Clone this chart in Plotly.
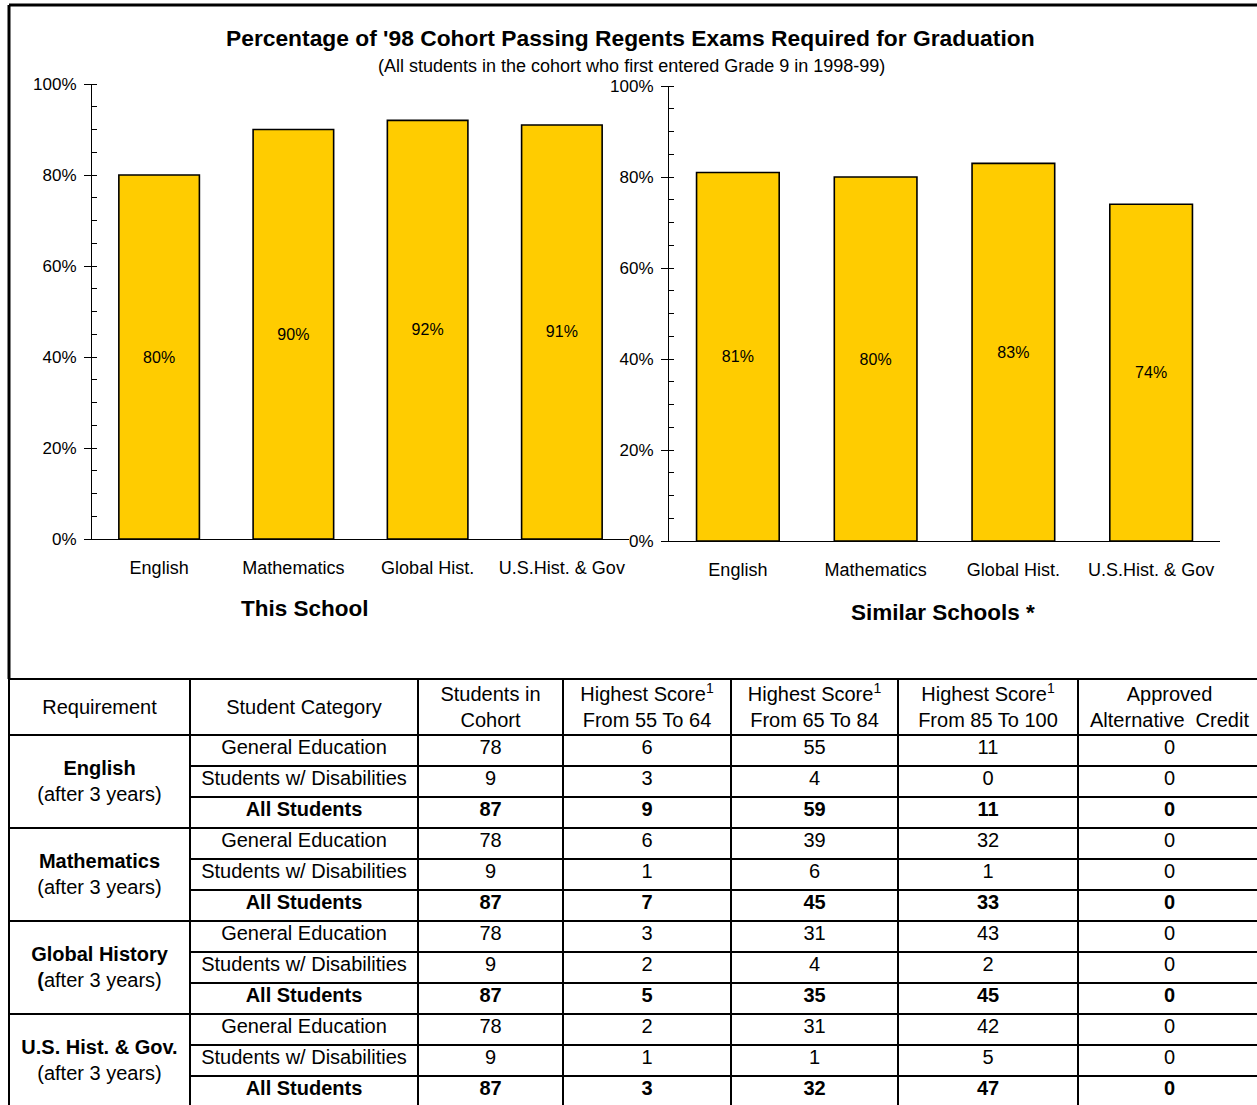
import plotly.graph_objects as go

# ---------------- data ----------------
categories = ["English", "Mathematics", "Global Hist.", "U.S.Hist. & Gov"]
this_school = [80, 90, 92, 91]
similar_schools = [81, 80, 83, 74]
y_ticks = [0, 20, 40, 60, 80, 100]

title_text = "Percentage of '98 Cohort Passing Regents Exams Required for Graduation"
subtitle_text = "(All students in the cohort who first entered Grade 9 in 1998-99)"
group_labels = ["This School", "Similar Schools *"]

table_headers = [
    "Requirement",
    "Student Category",
    "Students in<br>Cohort",
    "Highest Score<sup>1</sup><br>From 55 To 64",
    "Highest Score<sup>1</sup><br>From 65 To 84",
    "Highest Score<sup>1</sup><br>From 85 To 100",
    "Approved<br>Alternative  Credit",
]
requirements = [
    "<b>English</b><br>(after 3 years)",
    "<b>Mathematics</b><br>(after 3 years)",
    "<b>Global History</b><br><b>(</b>after 3 years)",
    "<b>U.S. Hist. & Gov.</b><br>(after 3 years)",
]
student_categories = ["General Education", "Students w/ Disabilities", "All Students"]
students_in_cohort = [[78, 9, 87], [78, 9, 87], [78, 9, 87], [78, 9, 87]]
score_55_64 = [[6, 3, 9], [6, 1, 7], [3, 2, 5], [2, 1, 3]]
score_65_84 = [[55, 4, 59], [39, 6, 45], [31, 4, 35], [31, 1, 32]]
score_85_100 = [[11, 0, 11], [32, 1, 33], [43, 2, 45], [42, 5, 47]]
alt_credit = [[0, 0, 0], [0, 0, 0], [0, 0, 0], [0, 0, 0]]

# ---------------- layout constants ----------------
W, H = 1257, 1105
FONT = "Liberation Sans, Arial, Helvetica, sans-serif"
BAR_COLOR = "#FFCC00"
COL_WIDTHS = [181, 228, 145, 168, 167, 180, 200]   # table column widths (px units)
TABLE_LEFT = 9
TABLE_TOP = 679
HEADER_H = 56
ROW_H = 31
TABLE_FONT = 20


def px_x(p):
    return p / W


def px_y(p):
    return 1 - p / H


fig = go.Figure()

# ---------------- bar charts ----------------
for vals, xa, ya in [(this_school, "x", "y"), (similar_schools, "x2", "y2")]:
    fig.add_trace(go.Bar(
        x=categories, y=vals, xaxis=xa, yaxis=ya,
        width=0.6,
        marker=dict(color=BAR_COLOR, line=dict(color="black", width=1.6)),
        text=[f"{v}%" for v in vals], texttemplate="%{text}",
        textposition="inside", insidetextanchor="middle",
        textangle=0, constraintext="none",
        textfont=dict(family=FONT, size=16, color="black"),
        hoverinfo="skip", showlegend=False,
    ))

yaxis_common = dict(
    range=[0, 100], tickvals=y_ticks, ticktext=[f"{v}%" for v in y_ticks],
    showline=True, linecolor="black", linewidth=1,
    ticks="outside", ticklen=7, tickcolor="black", tickwidth=1,
    minor=dict(ticks="inside", dtick=5, ticklen=5, tickcolor="black", tickwidth=1, showgrid=False),
    showgrid=False, zeroline=False, fixedrange=True, automargin=False,
    tickfont=dict(family=FONT, size=17, color="black"), ticklabelstandoff=4,
)
xaxis_common = dict(
    range=[-0.5, 3.5], showline=True, linecolor="black", linewidth=1,
    ticks="", showgrid=False, zeroline=False, fixedrange=True, automargin=False,
    tickfont=dict(family=FONT, size=18, color="black"), ticklabelstandoff=12,
)

fig.update_layout(
    xaxis=dict(domain=[px_x(92), px_x(629)], anchor="y", **xaxis_common),
    yaxis=dict(domain=[px_y(539), px_y(84)], anchor="x", **yaxis_common),
    xaxis2=dict(domain=[px_x(669), px_x(1220)], anchor="y2", **xaxis_common),
    yaxis2=dict(domain=[px_y(541), px_y(86)], anchor="x2", **yaxis_common),
)

# ---------------- table (own axis, px units) ----------------
col_edges = [0]
for w in COL_WIDTHS:
    col_edges.append(col_edges[-1] + w)
col_centers = [(col_edges[i] + col_edges[i + 1]) / 2 for i in range(len(COL_WIDTHS))]
col_centers[-1] = (col_edges[-2] + (W - TABLE_LEFT)) / 2 + 2

fig.update_layout(
    xaxis3=dict(domain=[0, 1], range=[-TABLE_LEFT, W - TABLE_LEFT], visible=False,
                fixedrange=True, automargin=False),
    yaxis3=dict(domain=[0, px_y(TABLE_TOP - 9)], range=[H, TABLE_TOP - 9], visible=False,
                fixedrange=True, automargin=False),
)

# header text
fig.add_trace(go.Scatter(
    x=col_centers, y=[TABLE_TOP + HEADER_H / 2 + 2] * len(table_headers),
    text=table_headers, mode="text", textposition="middle center",
    textfont=dict(family=FONT, size=TABLE_FONT, color="black"),
    xaxis="x3", yaxis="y3", hoverinfo="skip", showlegend=False, cliponaxis=False,
))

numeric_cols = [students_in_cohort, score_55_64, score_65_84, score_85_100, alt_credit]
cell_x, cell_y, cell_t = [], [], []
req_x, req_y, req_t = [], [], []
for b, req in enumerate(requirements):
    block_top = TABLE_TOP + HEADER_H + b * 3 * ROW_H
    req_x.append(col_centers[0])
    req_y.append(block_top + 1.5 * ROW_H + 1)
    req_t.append(req)
    for r, cat in enumerate(student_categories):
        yc = block_top + (r + 0.5) * ROW_H - 2
        bold = (r == 2)
        row_vals = [cat] + [str(col[b][r]) for col in numeric_cols]
        for c, v in enumerate(row_vals):
            cell_x.append(col_centers[c + 1])
            cell_y.append(yc)
            cell_t.append(f"<b>{v}</b>" if bold else v)

fig.add_trace(go.Scatter(
    x=cell_x, y=cell_y, text=cell_t, mode="text", textposition="middle center",
    textfont=dict(family=FONT, size=TABLE_FONT, color="black"),
    xaxis="x3", yaxis="y3", hoverinfo="skip", showlegend=False, cliponaxis=False,
))
fig.add_trace(go.Scatter(
    x=req_x, y=req_y, text=req_t, mode="text", textposition="middle center",
    textfont=dict(family=FONT, size=TABLE_FONT, color="black"),
    xaxis="x3", yaxis="y3", hoverinfo="skip", showlegend=False, cliponaxis=False,
))

shapes = []
LINE = dict(color="black", width=2)
n_rows = len(requirements) * 3
table_bottom = TABLE_TOP + HEADER_H + n_rows * ROW_H
# vertical lines
for e in col_edges[:-1]:
    shapes.append(dict(type="line", xref="x3", yref="y3", x0=e, x1=e,
                       y0=TABLE_TOP, y1=table_bottom, line=LINE))
# horizontal lines
full_lines = [TABLE_TOP, TABLE_TOP + HEADER_H] + [TABLE_TOP + HEADER_H + b * 3 * ROW_H for b in range(1, len(requirements))]
for yv in full_lines:
    shapes.append(dict(type="line", xref="x3", yref="y3", x0=0, x1=W,
                       y0=yv, y1=yv, line=LINE))
for b in range(len(requirements)):
    for r in (1, 2):
        yv = TABLE_TOP + HEADER_H + (b * 3 + r) * ROW_H
        shapes.append(dict(type="line", xref="x3", yref="y3", x0=col_edges[1], x1=W,
                           y0=yv, y1=yv, line=LINE))

# outer frame of the chart area
FRAME = dict(color="black", width=3)
shapes.append(dict(type="line", xref="paper", yref="paper", x0=px_x(9), x1=1.01,
                   y0=px_y(5), y1=px_y(5), line=FRAME))
shapes.append(dict(type="line", xref="paper", yref="paper", x0=px_x(9), x1=px_x(9),
                   y0=px_y(5), y1=px_y(TABLE_TOP), line=FRAME))

annotations = [
    dict(text=f"<b>{title_text}</b>", x=px_x(630), y=px_y(38), xref="paper", yref="paper",
         showarrow=False, font=dict(family=FONT, size=22.8, color="black"), xanchor="center", yanchor="middle"),
    dict(text=subtitle_text, x=px_x(631), y=px_y(66), xref="paper", yref="paper",
         showarrow=False, font=dict(family=FONT, size=18, color="black"), xanchor="center", yanchor="middle"),
    dict(text=f"<b>{group_labels[0]}</b>", x=px_x(305), y=px_y(608), xref="paper", yref="paper",
         showarrow=False, font=dict(family=FONT, size=22.5, color="black"), xanchor="center", yanchor="middle"),
    dict(text=f"<b>{group_labels[1]}</b>", x=px_x(943), y=px_y(612), xref="paper", yref="paper",
         showarrow=False, font=dict(family=FONT, size=22.5, color="black"), xanchor="center", yanchor="middle"),
]

fig.update_layout(
    width=W, height=H, margin=dict(l=0, r=0, t=0, b=0, pad=0, autoexpand=False),
    paper_bgcolor="white", plot_bgcolor="white",
    showlegend=False, shapes=shapes, annotations=annotations,
    font=dict(family=FONT, color="black"),
)

fig.write_html(
    "out.html",
    config={"displayModeBar": False, "responsive": False},
    post_script="document.body.style.margin='0px';document.body.style.overflow='hidden';",
)
